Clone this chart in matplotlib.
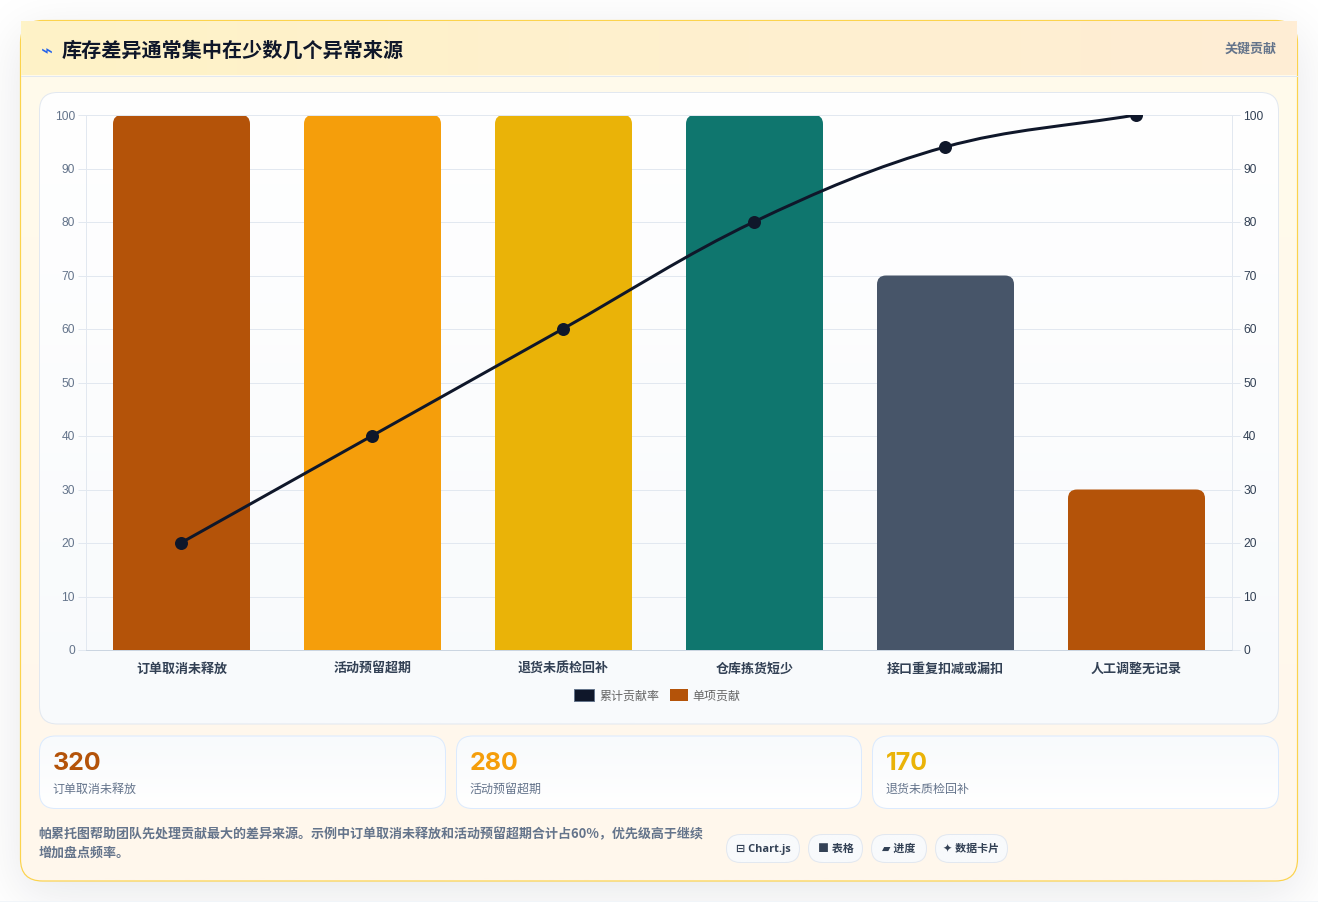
import math
import numpy as np
import matplotlib
matplotlib.use("Agg")
import matplotlib.pyplot as plt
from matplotlib.colors import to_rgb
from matplotlib.patches import FancyBboxPatch, Rectangle, PathPatch, Patch
from matplotlib.path import Path
from matplotlib.transforms import ScaledTranslation

W, H = 1318, 903
CJK = ["Noto Sans CJK SC", "DejaVu Sans"]
LATIN = ["Liberation Sans", "DejaVu Sans"]
MIXED = ["Open Sans", "Noto Sans CJK SC", "DejaVu Sans"]
plt.rcParams["font.family"] = CJK

title = "库存差异通常集中在少数几个异常来源"
tag = "关键贡献"
categories = ["订单取消未释放", "活动预留超期", "退货未质检回补", "仓库拣货短少", "接口重复扣减或漏扣", "人工调整无记录"]
bar_values = [100, 100, 100, 100, 70, 30]
cumulative = [20, 40, 60, 80, 94, 100]
bar_colors = ["#b45309", "#f59e0b", "#eab308", "#0f766e", "#475569", "#b45309"]
card_values = ["320", "280", "170"]
card_labels = ["订单取消未释放", "活动预留超期", "退货未质检回补"]
card_colors = ["#b45309", "#f59e0b", "#eab308"]
note_lines = ["帕累托图帮助团队先处理贡献最大的差异来源。示例中订单取消未释放和活动预留超期合计占60%，优先级高于继续",
              "增加盘点频率。"]
pill_labels = ["⊟ Chart.js", "■ 表格", "▰ 进度", "✦ 数据卡片"]
legend_labels = ["累计贡献率", "单项贡献"]

fig = plt.figure(figsize=(W / 100, H / 100), dpi=100, facecolor="white")
bg = fig.add_axes([0, 0, 1, 1], zorder=0)
bg.set_xlim(0, W)
bg.set_ylim(H, 0)
bg.axis("off")


def px(v):
    return v * 0.72


def vgrad(c1, c2, horizontal=False, n=128):
    a, b = np.array(to_rgb(c1)), np.array(to_rgb(c2))
    t = np.linspace(0, 1, n)[:, None]
    g = a + (b - a) * t
    return g[None, :, :] if horizontal else g[:, None, :]


def box(x0, y0, x1, y1, r, c1, c2, edge=None, lw=1.0, horizontal=False, z=1):
    if r > 0:
        p = FancyBboxPatch((x0 + r, y0 + r), x1 - x0 - 2 * r, y1 - y0 - 2 * r,
                           boxstyle=f"round,pad={r},rounding_size={r}",
                           facecolor="none", edgecolor="none", zorder=z)
    else:
        p = Rectangle((x0, y0), x1 - x0, y1 - y0, facecolor="none", edgecolor="none", zorder=z)
    bg.add_patch(p)
    im = bg.imshow(vgrad(c1, c2, horizontal), extent=(x0, x1, y1, y0), aspect="auto",
                   origin="upper", zorder=z, interpolation="bilinear")
    im.set_clip_path(p)
    if edge:
        e = FancyBboxPatch((x0 + r, y0 + r), x1 - x0 - 2 * r, y1 - y0 - 2 * r,
                           boxstyle=f"round,pad={r},rounding_size={r}",
                           facecolor="none", edgecolor=edge, linewidth=px(lw), zorder=z + 0.1)
        bg.add_patch(e)


# soft card shadow
erf = np.vectorize(math.erf)
sx, sy = 26.0, 26.0
xs = np.arange(W) + 0.5
ys = np.arange(H) + 0.5
fx = 0.5 * (erf((xs - 20) / (sx * 2 ** 0.5)) - erf((xs - 1298) / (sx * 2 ** 0.5)))
fy = 0.5 * (erf((ys - 34) / (sy * 2 ** 0.5)) - erf((ys - 895) / (sy * 2 ** 0.5)))
alpha = np.outer(fy, fx) * 0.10
shadow = np.zeros((H, W, 4))
shadow[..., :3] = to_rgb("#0f172a")
shadow[..., 3] = alpha
bg.imshow(shadow, extent=(0, W, H, 0), aspect="auto", zorder=0.1)
bg.add_patch(Rectangle((0, 902), W, 2, facecolor="#f1f5f9", edgecolor="none", zorder=0.2))

# outer card, header
box(20.5, 21.5, 1297.5, 882, 22, "#fffbeb", "#fff7ed", edge="#fcd34d", lw=1.2, z=1)
box(21, 22, 1297, 76, 0, "#fef3c7", "#ffedd5", horizontal=True, z=1.5)
bg.plot([21, 1297], [76.5, 76.5], color="#e2e8f0", lw=px(1), zorder=1.6)
bg.text(47, 51.5, "⌁", family=["DejaVu Sans"], fontsize=px(20), color="#2563eb", ha="center", va="center", zorder=3)
bg.text(62, 50, title, fontsize=px(20.1), fontweight="bold", color="#0f172a", ha="left", va="center", zorder=3)
bg.text(1277, 49, tag, fontsize=px(13), fontweight="bold", color="#64748b", ha="right", va="center", zorder=3)

# chart panel
box(39.5, 93.5, 1278.5, 725, 18, "#ffffff", "#f8fafc", edge="#e2e8f0", z=2)

# stat cards
card_x = [(39.5, 445.5), (456.5, 861.5), (872.5, 1278.5)]
for (x0, x1), val, lab, col in zip(card_x, card_values, card_labels, card_colors):
    box(x0, 737, x1, 809.5, 16, "#f8fafc", "#ffffff", edge="#dbeafe", z=2)
    bg.text(x0 + 13, 763.5, val, family=["Inter", "DejaVu Sans"], fontsize=px(25), fontweight="bold", color=col, ha="left", va="center", zorder=3)
    bg.text(x0 + 13, 789.5, lab, fontsize=px(12), color="#64748b", ha="left", va="center", zorder=3)

# notes and pills
for y, line in zip([834, 853], note_lines):
    bg.text(38.5, y, line, fontsize=px(13), fontweight="bold", color="#64748b", ha="left", va="center", zorder=3)
pill_x = [(726.5, 799.5), (808.5, 862.5), (871.5, 926.5), (935.5, 1007.5)]
for (x0, x1), lab in zip(pill_x, pill_labels):
    box(x0, 835.5, x1, 863.5, 14, "#f8fafc", "#f8fafc", edge="#e2e8f0", z=2)
    bg.text((x0 + x1) / 2, 849.5, lab, family=MIXED, fontsize=px(11), fontweight="bold", color="#334155",
            ha="center", va="center", zorder=3)

# chart axes
L, R, T, B = 86, 1232, 116, 651
ax = fig.add_axes([L / W, 1 - B / H, (R - L) / W, (B - T) / H], zorder=1)
ax.patch.set_alpha(0)
positions = np.arange(len(categories))
ax.set_xlim(-0.5, len(categories) - 0.5)
ax.set_ylim(0, 100)
ax.set_yticks(np.arange(0, 101, 10))
ax.set_xticks(positions)
ax.set_xticklabels(categories, fontsize=px(13), fontweight="bold", color="#334155")
ax.tick_params(axis="x", length=0, pad=px(10.5))
ax.tick_params(axis="y", length=px(8), width=px(1), color="#e2e8f0", pad=px(3), labelsize=px(12), labelcolor="#64748b")
ax.grid(axis="y", color="#e2e8f0", lw=px(1))
ax.set_axisbelow(True)
for side, col in [("left", "#e2e8f0"), ("right", "#e2e8f0"), ("top", "#e2e8f0"), ("bottom", "#cbd5e1")]:
    ax.spines[side].set_color(col)
    ax.spines[side].set_linewidth(px(1))

axr = ax.twinx()
axr.set_ylim(0, 100)
axr.set_yticks(np.arange(0, 101, 10))
axr.tick_params(axis="y", length=px(8), width=px(1), color="#e2e8f0", pad=px(3), labelsize=px(12), labelcolor="#334155")
for s in axr.spines.values():
    s.set_visible(False)

# nudge value labels up by one pixel
label_up = ScaledTranslation(0, px(1) / 72, fig.dpi_scale_trans)
for axis_obj in (ax, axr):
    for lab in axis_obj.get_yticklabels():
        lab.set_family(LATIN)
        lab.set_transform(lab.get_transform() + label_up)

# bars with rounded top corners
rects = ax.bar(positions, bar_values, width=137 / 191, color=bar_colors, zorder=2)
rx = 9 / ((R - L) / len(categories))
ry = 9 / ((B - T) / 100)
for rect in rects:
    x0, w, h = rect.get_x(), rect.get_width(), rect.get_height()
    x1 = x0 + w
    verts = [(x0, 0), (x0, h - ry), (x0, h), (x0 + rx, h), (x1 - rx, h), (x1, h), (x1, h - ry), (x1, 0), (x0, 0)]
    codes = [Path.MOVETO, Path.LINETO, Path.CURVE3, Path.CURVE3, Path.LINETO, Path.CURVE3, Path.CURVE3, Path.LINETO, Path.CLOSEPOLY]
    ax.add_patch(PathPatch(Path(verts, codes), facecolor=rect.get_facecolor(), edgecolor="none", zorder=2))
    rect.set_visible(False)

# Chart.js style smoothed cumulative line (tension in screen space)
sxs = positions * (R - L) / len(categories)
sys_ = np.array(cumulative) * (B - T) / 100
tension = 0.35
pts = np.column_stack([sxs, sys_])
n = len(pts)
verts = [tuple(pts[0])]
codes = [Path.MOVETO]
ctrl_prev, ctrl_next = [], []
for i in range(n):
    prev = pts[max(i - 1, 0)]
    nxt = pts[min(i + 1, n - 1)]
    d01 = np.hypot(*(pts[i] - prev))
    d12 = np.hypot(*(nxt - pts[i]))
    total = d01 + d12
    ctrl_prev.append(pts[i] - tension * (d01 / total) * (nxt - prev))
    ctrl_next.append(pts[i] + tension * (d12 / total) * (nxt - prev))
for i in range(n - 1):
    verts += [tuple(ctrl_next[i]), tuple(ctrl_prev[i + 1]), tuple(pts[i + 1])]
    codes += [Path.CURVE4] * 3
scale = np.array([len(categories) / (R - L), 100 / (B - T)])
data_verts = np.array(verts) * scale
line_shift = ax.transData + ScaledTranslation(-px(0.8) / 72, 0, fig.dpi_scale_trans)
curve = PathPatch(Path(data_verts, codes), facecolor="none", edgecolor="#0f172a", lw=px(3), zorder=3)
ax.add_patch(curve)
curve.set_transform(line_shift)
curve.set_clip_path(ax.patch)
mk, = ax.plot(positions, cumulative, ls="none", marker="o", ms=px(13), mfc="#0f172a", mec="#0f172a", mew=0,
              zorder=4, transform=line_shift)
mk.set_snap(False)

# legend
handles = [Patch(facecolor="#0f172a", edgecolor="#64748b", lw=px(1), label=legend_labels[0]),
           Patch(facecolor="#b45309", edgecolor="none", label=legend_labels[1])]
leg = fig.legend(handles=handles, ncol=2, loc="center", bbox_to_anchor=(657 / W, 1 - 696.5 / H),
                 frameon=False, fontsize=px(12), handlelength=1.7, handleheight=1.2,
                 handletextpad=0.45, columnspacing=0.6, labelcolor="#666666", borderpad=0, borderaxespad=0)
second = leg.legend_handles[1]
second.set_x(second.get_x() + px(3))
second.set_width(second.get_width() - px(2))

fig.savefig("out.png", dpi=100, facecolor="white")
